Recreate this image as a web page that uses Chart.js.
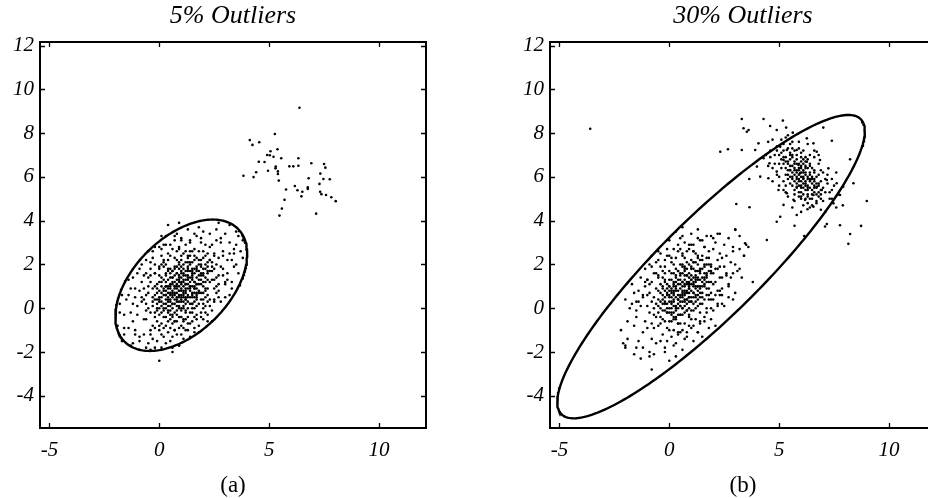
<!DOCTYPE html>
<html>
<head>
<meta charset="utf-8">
<script src="https://cdn.jsdelivr.net/npm/chart.js@4.4.1/dist/chart.umd.min.js"></script>
<style>
  html, body { margin: 0; padding: 0; background: #fff; overflow: hidden; }
  #wrap { position: relative; width: 928px; height: 498px; overflow: hidden; background: #fff; }
  canvas { position: absolute; top: 0; }
  #chartA { left: 0; }
  #chartB { left: 510px; }
</style>
</head>
<body>
<div id="wrap">
  <canvas id="chartA" width="464" height="498"></canvas>
  <canvas id="chartB" width="464" height="498"></canvas>
</div>
<script>
// Panel titles, captions and axis ticks
const panelTitles = ['5% Outliers', '30% Outliers'];
const panelCaptions = ['(a)', '(b)'];
const xTickValues = [-5, 0, 5, 10];
const yTickValues = [-4, -2, 0, 2, 4, 6, 8, 10, 12];
const xRange = [-5.43, 12.14];
const yRange = [-5.47, 12.16];

// Panel (a): main cloud, flat list of x,y pairs
const aInliers = [
  -1.8,0.2,
  -1.6,-0.9, -1.4,0.6, -1.3,-0.2,
  -1.2,-0.6, -1.1,0.9, -1.0,0.1, -0.9,-1.3, -1.2,1.4, -0.8,0.5, -1.0,-0.3, -0.9,1.8, -1.1,-1.0, -0.8,0.3,
  -0.7,0.4, -0.6,-0.5, -0.4,1.2, -0.5,0.0, -0.3,0.9, -0.6,1.6, -0.7,-1.2, -0.4,-0.2, -0.5,0.7, -0.3,-0.8,
  -0.6,0.2, -0.4,2.1, -0.7,0.9, -0.5,-1.6, -0.3,0.5, -0.6,-0.1, -0.4,1.5, -0.7,-0.5, -0.3,0.1, -0.5,1.0,
  -0.4,-1.0, -0.6,0.6, -0.3,2.6,
  -0.2,0.6, 0.0,-0.3, 0.1,1.4, -0.1,0.2, 0.2,0.9, 0.0,1.8, -0.2,-0.9, 0.1,0.5, 0.2,-0.4, -0.1,1.1,
  0.0,0.0, 0.2,2.2, -0.2,0.4, 0.1,-1.2, 0.0,0.8, -0.1,-0.6, 0.2,1.3, 0.1,0.1, -0.2,1.6, 0.0,-2.4,
  0.1,0.7, -0.1,0.4, 0.2,-0.1, 0.0,1.2, -0.2,-0.2, 0.1,2.7, 0.0,0.3, -0.1,-1.5, 0.2,0.6, 0.1,-0.7,
  -0.2,1.0, 0.0,0.5, 0.2,1.9, -0.1,0.9, 0.1,-0.2, 0.0,-1.0, -0.2,2.0, 0.2,0.2, 0.1,1.0, -0.1,-0.1,
  0.0,1.5, 0.2,-0.9, -0.1,0.7, 0.1,3.3,
  0.3,0.8, 0.5,-0.1, 0.7,1.5, 0.4,0.3, 0.6,1.1, 0.3,2.0, 0.5,0.6, 0.7,-0.6, 0.4,1.3, 0.6,0.0,
  0.3,-0.4, 0.5,1.8, 0.7,0.9, 0.4,-1.1, 0.6,0.5, 0.3,1.2, 0.5,2.4, 0.7,0.2, 0.4,0.7, 0.6,-0.3,
  0.3,0.4, 0.5,1.0, 0.7,1.9, 0.4,-0.6, 0.6,1.4, 0.3,-1.6, 0.5,0.3, 0.7,0.7, 0.4,2.2, 0.6,0.8,
  0.3,1.6, 0.5,-0.5, 0.7,1.2, 0.4,0.1, 0.6,2.7, 0.3,0.0, 0.5,1.4, 0.7,-0.2, 0.4,1.0, 0.6,-1.3,
  0.3,0.6, 0.5,0.9, 0.7,0.4, 0.4,1.7, 0.6,0.2, 0.3,-0.8, 0.5,0.1, 0.7,2.3, 0.4,0.5, 0.6,1.2,
  0.3,2.9, 0.5,-0.9, 0.7,1.0, 0.4,-0.2, 0.6,0.6, 0.3,1.0, 0.5,1.6, 0.7,-1.0, 0.4,3.8, 0.6,1.7,
  0.5,0.4, 0.3,0.2, 0.6,-0.7,
  0.8,1.0, 1.0,0.3, 1.2,1.7, 0.9,0.6, 1.1,1.3, 0.8,2.2, 1.0,-0.4, 1.2,0.9, 0.9,1.5, 1.1,0.1,
  0.8,-0.3, 1.0,1.9, 1.2,0.5, 0.9,-0.9, 1.1,2.5, 0.8,0.7, 1.0,1.1, 1.2,-0.1, 0.9,1.2, 1.1,0.8,
  0.8,1.6, 1.0,0.0, 1.2,2.1, 0.9,0.3, 1.1,-0.6, 0.8,0.4, 1.0,1.4, 1.2,1.1, 0.9,2.8, 1.1,0.5,
  0.8,-1.2, 1.0,0.8, 1.2,0.2, 0.9,1.8, 1.1,1.0, 0.8,1.3, 1.0,-0.8, 1.2,1.5, 0.9,0.0, 1.1,2.0,
  0.8,0.9, 1.0,2.4, 1.2,-0.5, 0.9,1.0, 1.1,0.3, 0.8,0.1, 1.0,1.6, 1.2,0.7, 0.9,-0.4, 1.1,1.6,
  0.8,1.9, 1.0,0.5, 1.2,2.6, 0.9,0.8, 1.1,-1.4, 0.8,-0.6, 1.0,1.2, 1.2,0.4, 0.9,2.1, 1.1,0.7,
  0.8,0.5, 1.0,3.1, 1.2,1.3, 0.9,-1.7, 1.1,1.2, 0.8,2.6, 1.0,0.6, 1.2,-1.0, 0.9,1.4, 1.1,1.8,
  1.0,-0.1, 0.9,0.5,
  1.3,1.3, 1.5,0.5, 1.7,1.9, 1.4,0.9, 1.6,1.6, 1.3,2.4, 1.5,-0.2, 1.7,1.1, 1.4,1.7, 1.6,0.3,
  1.3,0.0, 1.5,2.1, 1.7,0.7, 1.4,-0.7, 1.6,2.7, 1.3,0.9, 1.5,1.3, 1.7,0.1, 1.4,1.4, 1.6,1.0,
  1.3,1.8, 1.5,0.2, 1.7,2.3, 1.4,0.5, 1.6,-0.4, 1.3,0.6, 1.5,1.6, 1.7,1.4, 1.4,3.0, 1.6,0.7,
  1.3,-1.0, 1.5,1.0, 1.7,0.4, 1.4,2.0, 1.6,1.2, 1.3,1.5, 1.5,-0.6, 1.7,1.7, 1.4,0.2, 1.6,2.2,
  1.3,1.1, 1.5,2.6, 1.7,-0.3, 1.4,1.2, 1.6,0.5, 1.3,0.3, 1.5,1.8, 1.7,0.9, 1.4,-0.2, 1.6,1.8,
  1.3,2.1, 1.5,0.7, 1.7,3.3, 1.4,1.0, 1.6,-1.1, 1.3,-0.4, 1.5,1.4, 1.7,0.6, 1.4,2.4, 1.6,0.9,
  1.8,3.7, 1.5,0.0, 1.3,1.7,
  1.8,1.5, 2.0,0.7, 2.2,2.1, 1.9,1.1, 2.1,1.8, 1.8,2.6, 2.0,0.0, 2.2,1.3, 1.9,1.9, 2.1,0.5,
  1.8,0.2, 2.0,2.3, 2.2,0.9, 1.9,-0.4, 2.1,2.9, 1.8,1.1, 2.0,1.5, 2.2,0.3, 1.9,1.6, 2.1,1.2,
  1.8,2.0, 2.0,0.4, 2.2,2.5, 1.9,0.7, 2.1,-0.2, 1.8,0.8, 2.0,1.8, 2.2,1.6, 1.9,3.2, 2.1,0.9,
  1.8,-0.8, 2.0,1.2, 2.2,0.6, 1.9,2.2, 2.1,1.4, 1.8,1.7, 2.0,-0.5, 2.2,1.9, 1.9,0.4, 2.1,2.4,
  2.0,1.0, 2.2,-0.6, 1.9,1.3, 2.1,0.1,
  2.3,1.7, 2.5,0.9, 2.7,2.3, 2.4,1.3, 2.6,2.0, 2.3,2.8, 2.5,0.3, 2.7,1.5, 2.4,2.1, 2.6,0.7,
  2.3,0.4, 2.5,2.5, 2.7,1.1, 2.4,-0.1, 2.6,3.1, 2.3,1.2, 2.5,1.8, 2.7,0.5, 2.4,1.7, 2.6,1.4,
  2.7,3.9, 2.5,1.3, 2.3,2.2,
  2.8,1.9, 3.0,1.1, 3.2,2.5, 2.9,1.5, 3.1,2.2, 2.8,3.0, 3.0,0.5, 3.2,3.8, 2.9,2.4, 3.1,1.3,
  3.4,2.5, 3.5,2.0, 3.3,1.2,
  3.8,2.3,
  0.6,0.7, 1.2,1.1, 0.9,1.3, 1.4,0.8, 0.7,1.0, 1.1,0.6, 1.5,1.5, 0.4,0.4, 1.0,0.9, 1.3,1.4,
  0.8,0.3, 1.6,1.2, 0.5,1.1, 1.2,0.4, 0.9,0.8, 1.7,1.8, 0.3,0.6, 1.1,1.5, 0.6,0.2, 1.4,1.0,
  0.2,0.0, 1.8,1.3, 0.7,0.6, 1.0,1.7, 1.5,0.6, 0.4,0.9, 1.3,1.9, 0.8,-0.1, 1.9,2.0, 0.1,0.3,
  1.2,0.8, 0.6,1.4, 1.6,0.9, 0.9,0.1, 2.0,1.6, 0.3,1.0, 1.4,2.1, 0.5,-0.3, 1.7,1.1, 1.0,0.4,
  0.7,1.8, 1.8,2.2, 0.2,0.8, 1.1,0.0, 1.5,1.7, 0.4,-0.1, 2.1,2.0, 0.8,1.6, 1.3,0.5, 0.0,0.4,
  1.6,2.4, 0.6,-0.4, 1.9,1.5, 0.9,2.0, 1.2,-0.2, 0.1,1.2, 2.2,1.7, 0.5,0.7, 1.4,2.6, 0.7,-0.6,
  -0.1,0.0, 2.3,2.2, 1.0,2.2, 1.7,0.5, 0.3,1.5, 1.1,-0.5, 2.0,2.6, 0.8,1.1, -0.3,0.3, 1.5,0.2,
  0.6,1.7, 2.4,1.9, -0.2,-0.4, 1.3,2.3, 0.4,1.8, 1.8,0.7, 0.0,-0.8, 2.5,2.4, 1.6,0.0, 0.2,2.1,
  -1.0,1.6, -0.6,2.2, -0.2,2.8, 0.3,3.3, 0.8,3.4, 1.3,3.6, -1.3,0.9, -1.5,0.4, -0.8,1.2, -0.4,1.8,
  0.1,2.4, 0.5,2.9, 1.0,3.2, -1.1,0.5, -0.7,1.5, -0.3,2.3, 0.2,2.9, 0.7,3.1, 1.6,3.4, -1.6,-0.3,
  -1.2,0.2, -0.9,0.8, -0.5,1.4, 0.0,1.9, 0.4,2.5, 0.9,2.7, 1.4,3.1, 2.0,3.5, -0.8,2.0, 0.0,2.8,
  0.7,3.3, -1.4,1.3, 1.2,2.9, 2.3,3.4, 0.1,2.0, -0.5,2.6, 1.9,3.0, -1.7,0.6, -0.2,1.6, 0.9,3.9,
  1.0,-1.2, 1.6,-0.9, 2.2,-0.3, 2.8,0.3, 3.3,0.9, 3.6,1.6, 0.5,-1.5, 0.1,-1.8, -0.4,-1.9, 1.3,-0.7,
  1.9,-0.2, 2.5,0.4, 3.0,1.2, 3.4,1.9, 0.7,-1.0, 0.2,-1.3, -0.3,-1.4, 1.7,-0.5, 2.3,0.1, 2.7,0.8,
  3.1,1.6, 3.7,2.6, 1.1,-0.9, 0.6,-2.0, -0.6,-1.8, 2.0,0.2, 2.6,1.0, 3.2,0.6, 3.5,2.9, 1.4,-1.3,
  0.9,-1.7, -0.9,-1.5, 2.4,-0.6, 2.9,1.8, 3.8,3.1, -1.2,-1.6, 1.8,-1.1, 0.6,-1.8, 2.1,0.8, 3.3,2.2,
  -1.6,-1.2, -1.9,-0.8, -1.3,-1.7, -0.9,-1.9, -1.7,-1.5, 3.5,3.5, 3.0,3.4, 3.9,3.0, 2.6,3.6, 3.2,3.0,
  -0.2,-1.8, -1.4,-0.9, 2.8,3.2, 3.6,3.3, -1.8,-0.2, 3.4,2.7, -1.1,-1.2, 2.4,2.9, -0.4,-1.2, 2.9,2.6
];

// Panel (a): outlying group
const aOutliers = [
  6.38,9.16, 5.26,7.96, 4.12,7.68, 4.55,7.58, 4.24,7.46, 5.38,7.26, 5.06,7.17, 4.91,7.00, 5.03,6.99, 5.20,6.92,
  5.55,6.85, 6.33,6.85, 4.53,6.69, 4.79,6.68, 6.92,6.62, 7.50,6.59, 5.30,6.47, 5.29,6.39, 5.92,6.48, 6.10,6.48,
  6.33,6.51, 7.56,6.42, 4.95,6.28, 5.40,6.25, 4.41,6.21, 5.40,6.13, 3.83,6.05, 4.29,5.99, 7.33,6.15, 6.80,5.94,
  7.47,5.90, 7.76,5.89, 5.44,5.83, 7.29,5.68, 6.17,5.58, 6.76,5.52, 6.76,5.45, 5.77,5.42, 6.29,5.39, 6.51,5.32,
  7.32,5.32, 7.38,5.21, 7.59,5.17, 6.47,5.11, 7.83,5.07, 8.03,4.89, 5.70,4.95, 5.58,4.55, 5.47,4.23, 7.14,4.32
];

// Panel (b): main cloud
const bInliers = [
  -2.1,-1.6,
  -2.0,-1.8, -1.7,0.2, -1.6,-0.8,
  -1.5,-0.4, -1.4,0.8, -1.2,-1.1, -1.3,0.1, -1.1,-0.6, -1.4,-1.5, -1.2,0.5, -1.1,1.2, -1.5,0.3,
  -1.0,0.1, -0.8,-0.7, -0.6,0.9, -0.9,-0.2, -0.7,0.5, -1.0,1.3, -0.8,-1.4, -0.6,-0.4, -0.9,0.7, -0.7,-0.9,
  -1.0,-0.9, -0.8,0.3, -0.6,1.6, -0.9,-2.0, -0.7,0.0, -0.8,-2.8, -0.6,0.2, -0.9,1.1, -0.7,-0.3, -1.0,0.6,
  -0.8,1.9,
  -0.5,0.4, -0.3,-0.5, -0.1,1.1, -0.4,0.0, -0.2,0.8, -0.5,1.5, -0.3,-1.2, -0.1,0.2, -0.4,-0.4, -0.2,1.3,
  -0.5,-0.8, -0.3,0.6, -0.1,-0.2, -0.4,1.9, -0.2,0.3, -0.5,0.1, -0.3,1.0, -0.1,-0.9, -0.4,0.7, -0.2,-0.6,
  -0.5,2.2, -0.3,0.2, -0.1,0.6, -0.4,-1.5, -0.2,1.6, -0.5,-0.2, -0.3,1.4, -0.1,0.9, -0.4,0.3, -0.2,-0.1,
  -0.5,0.8, -0.3,-0.1, -0.1,2.4, -0.4,1.1, -0.2,-1.8, -0.3,0.9, -0.1,0.0, -0.4,-0.7, -0.2,0.5,
  0.0,0.6, 0.2,-0.2, 0.4,1.3, 0.1,0.2, 0.3,1.0, 0.0,1.7, 0.2,-1.0, 0.4,0.4, 0.1,-0.3, 0.3,1.5,
  0.0,-0.6, 0.2,0.8, 0.4,0.0, 0.1,2.1, 0.3,0.5, 0.0,0.3, 0.2,1.2, 0.4,-0.7, 0.1,0.9, 0.3,-0.4,
  0.0,2.4, 0.2,0.4, 0.4,0.8, 0.1,-1.3, 0.3,1.8, 0.0,0.0, 0.2,1.6, 0.4,1.1, 0.1,0.5, 0.3,0.1,
  0.0,1.0, 0.2,0.1, 0.4,2.6, 0.1,1.3, 0.3,-1.6, 0.0,-0.2, 0.2,0.7, 0.4,-0.3, 0.1,0.7, 0.3,0.8,
  0.0,1.3, 0.2,-0.5, 0.4,1.7, 0.1,0.0, 0.3,1.2, 0.0,-1.0, 0.2,2.0, 0.4,0.2, 0.1,1.6, 0.3,-0.1,
  0.0,0.8, 0.2,1.0, 0.4,-1.1, 0.1,-0.6, 0.3,2.3, 0.2,0.3,
  0.5,0.9, 0.7,0.1, 0.9,1.6, 0.6,0.5, 0.8,1.2, 0.5,2.0, 0.7,-0.7, 0.9,0.7, 0.6,0.0, 0.8,1.8,
  0.5,-0.3, 0.7,1.1, 0.9,0.3, 0.6,2.4, 0.8,0.8, 0.5,0.6, 0.7,1.5, 0.9,-0.4, 0.6,1.2, 0.8,-0.1,
  0.5,2.7, 0.7,0.7, 0.9,1.1, 0.6,-1.0, 0.8,2.1, 0.5,0.3, 0.7,1.9, 0.9,1.4, 0.6,0.8, 0.8,0.4,
  0.5,1.3, 0.7,0.4, 0.9,2.9, 0.6,1.6, 0.8,-1.3, 0.5,0.1, 0.7,1.0, 0.9,0.0, 0.6,1.0, 0.8,1.1,
  0.5,1.6, 0.7,-0.2, 0.9,2.0, 0.6,0.3, 0.8,1.5, 0.5,-0.7, 0.7,2.3, 0.9,0.5, 0.6,1.9, 0.8,0.2,
  0.5,1.1, 0.7,1.3, 0.9,-0.8, 0.6,-0.3, 0.8,2.6, 0.5,0.5, 0.7,0.6, 0.9,0.9, 0.6,0.6, 0.8,0.7,
  0.5,-1.1, 0.7,1.7, 0.9,1.2, 0.6,3.3,
  1.0,1.1, 1.2,0.3, 1.4,1.8, 1.1,0.7, 1.3,1.4, 1.0,2.2, 1.2,-0.5, 1.4,0.9, 1.1,0.2, 1.3,2.0,
  1.0,-0.1, 1.2,1.3, 1.4,0.5, 1.1,2.6, 1.3,1.0, 1.0,0.8, 1.2,1.7, 1.4,-0.2, 1.1,1.4, 1.3,0.1,
  1.0,2.9, 1.2,0.9, 1.4,1.3, 1.1,-0.8, 1.3,2.3, 1.0,0.5, 1.2,2.1, 1.4,1.6, 1.1,1.0, 1.3,0.6,
  1.0,1.5, 1.2,0.6, 1.4,3.1, 1.1,1.8, 1.3,-1.1, 1.0,0.3, 1.2,1.2, 1.4,0.2, 1.1,1.2, 1.3,1.3,
  1.0,1.8, 1.2,0.0, 1.4,2.2, 1.1,0.5, 1.3,1.7, 1.0,-0.5, 1.2,2.5, 1.4,0.7, 1.1,2.1, 1.3,0.4,
  1.0,1.3, 1.2,1.5, 1.4,-0.6, 1.1,-0.1, 1.3,3.6, 1.2,1.0,
  1.5,1.4, 1.7,0.6, 1.9,2.0, 1.6,1.0, 1.8,1.7, 1.5,2.4, 1.7,-0.2, 1.9,1.2, 1.6,0.4, 1.8,2.3,
  1.5,0.2, 1.7,1.6, 1.9,0.7, 1.6,2.8, 1.8,1.2, 1.5,1.0, 1.7,2.0, 1.9,0.0, 1.6,1.6, 1.8,0.4,
  1.5,3.1, 1.7,1.2, 1.9,1.6, 1.6,-0.6, 1.8,2.6, 1.5,0.7, 1.7,2.3, 1.9,1.9, 1.6,1.3, 1.8,0.9,
  1.5,1.8, 1.7,0.9, 1.9,3.3, 1.6,2.0, 1.8,-0.9, 1.5,0.5, 1.7,1.4, 1.9,0.4, 1.6,1.1,
  2.0,1.6, 2.2,0.8, 2.4,2.3, 2.1,1.2, 2.3,1.9, 2.0,2.7, 2.2,0.1, 2.4,1.4, 2.1,0.6, 2.3,2.5,
  2.0,0.4, 2.2,1.8, 2.4,0.9, 2.1,3.0, 2.3,1.4, 2.0,1.1, 2.2,2.2, 2.4,0.2, 2.1,1.8, 2.3,0.6,
  2.2,3.4,
  2.5,1.9, 2.7,1.1, 2.9,2.6, 2.6,1.5, 2.8,2.1, 2.5,2.9, 2.7,0.5, 2.9,1.6, 2.6,2.4,
  3.0,3.6, 3.2,1.8, 3.4,2.4,
  3.8,1.2,
  0.4,0.6, 0.9,1.0, 0.6,1.2, 1.1,0.7, 0.3,0.9, 0.8,0.4, 1.2,1.4, 0.1,0.3, 0.7,0.8, 1.0,1.3,
  0.5,0.1, 1.3,1.0, 0.2,1.1, 0.9,0.5, 0.6,0.7, 1.4,1.7, 0.0,0.5, 0.8,1.5, 0.3,0.0, 1.1,1.1,
  -0.1,-0.2, 1.5,1.2, 0.4,0.4, 0.7,1.8, 1.2,0.5, 0.1,0.8, 1.0,1.9, 0.5,-0.3, 1.6,1.9, -0.2,0.2,
  0.9,0.9, 0.3,1.4, 1.3,0.8, 0.6,0.0, 1.7,1.5, 0.0,1.0, 1.1,2.1, 0.2,-0.4, 1.4,1.0, 0.7,0.3,
  0.4,1.7, 1.5,2.2, -0.1,0.7, 0.8,-0.1, 1.2,1.7, 0.1,-0.2, 1.8,2.0, 0.5,1.5, 1.0,0.3, -0.3,0.4,
  1.3,2.4, 0.3,-0.5, 1.6,1.4, 0.6,2.0, 0.9,-0.3, -0.2,1.2, 1.9,1.7, 0.2,0.6, 1.1,2.6, 0.4,-0.7,
  -1.3,1.4, -0.9,2.0, -0.5,2.6, 0.0,3.1, 0.5,3.2, 1.0,3.4, -1.6,0.7, -1.8,0.0, -1.1,1.0, -0.7,1.6,
  -0.2,2.2, 0.2,2.7, 0.7,3.0, -1.4,0.3, -1.0,1.3, -0.6,2.1, -0.1,2.7, 0.4,2.9, 1.3,3.2, -1.9,-0.6,
  -1.5,-0.1, -1.2,0.6, -0.8,1.2, -0.3,1.7, 0.1,2.3, 0.6,2.5, 1.1,2.9, 1.7,3.3, -1.1,1.8, -0.4,2.5,
  0.3,3.5, -1.7,1.1, 0.9,2.7, 2.0,3.2, -0.2,1.9, -0.8,2.4, 1.6,2.8, -2.0,0.4, -0.5,1.4, 0.6,3.7,
  0.7,-1.4, 1.3,-1.1, 1.9,-0.5, 2.5,0.1, 3.0,0.7, 3.3,1.4, 0.2,-1.7, -0.2,-2.0, -0.7,-2.1, 1.0,-0.9,
  1.6,-0.4, 2.2,0.2, 2.7,1.0, 3.1,1.7, 0.4,-1.2, -0.1,-1.5, -0.6,-1.6, 1.4,-0.7, 2.0,-0.1, 2.4,0.6,
  2.8,1.4, 3.4,2.4, 0.8,-1.1, 0.3,-2.2, -0.9,-2.2, 1.7,0.0, 2.3,0.8, 2.9,0.4, 3.2,2.7, 1.1,-1.5,
  0.6,-1.9, -1.2,-1.8, 2.1,-0.8, 2.6,1.6, 3.5,2.9, -1.5,-1.8, 1.5,-1.3, 0.0,-2.4, 1.8,0.6, 3.0,2.0,
  -1.9,-1.4, -2.2,-1.0, -1.6,-2.1, -1.3,-2.3, -2.0,-1.7, 3.2,3.3, 2.7,3.2, 3.6,2.8, 2.3,3.4, 2.9,2.8
];

// Panel (b): outlying group
const bOutliers = [
  3.30,8.64, 4.29,8.64, 3.38,8.22, 3.53,8.06, 3.61,8.14, 4.59,8.32, 4.89,8.14, 5.17,8.57, 5.32,8.25, 5.62,8.02,
  2.67,7.26, 3.30,7.23, 3.91,7.23, 4.06,7.53, 2.32,7.15, 7.01,8.25, 7.40,7.65, 8.23,6.80, 8.38,5.71, 8.99,4.90,
  7.62,5.71, 7.77,3.79, 8.23,3.39, 8.73,3.76, 8.15,2.94, 6.14,3.30, 5.70,3.77, 4.89,3.95, 4.44,3.12, 3.05,4.76,
  3.65,4.61, 3.64,5.90, 3.01,3.58, 3.45,2.97, 7.09,3.73, 7.17,3.85, 5.05,4.18, 5.80,4.26, 6.29,4.52, 6.56,4.64,
  7.47,4.79, 7.77,5.17, 7.92,5.55, 7.40,5.40, 7.17,5.86, 4.29,6.85, 4.56,6.62, 4.14,6.01, 4.51,5.94, 3.99,6.47,
  5.05,7.38, 5.35,7.23, 5.80,7.23, 6.26,7.76, 6.56,7.53, 6.71,7.15, 6.86,6.77, 7.24,6.39, 6.26,6.69, 5.88,6.54,
  5.50,6.31, 5.20,6.77, 4.89,6.24, 4.97,5.40, 5.35,5.25, 5.80,5.55, 6.10,5.94, 5.95,6.16, 6.41,5.86, 6.71,5.55,
  6.94,5.40, 6.56,5.17, 6.18,4.95, 5.65,4.95, 5.20,4.72, -3.6,8.2,
  5.8,6.2, 6.1,5.9, 6.3,5.6, 5.6,6.5, 6.0,6.0, 6.4,5.8, 5.9,6.4, 6.2,6.1, 5.7,5.8, 6.5,5.4,
  5.5,6.8, 6.0,5.5, 6.2,6.5, 5.8,5.7, 6.6,5.9, 5.4,6.3, 6.1,6.3, 6.3,5.2, 5.9,5.9, 6.7,5.5,
  5.3,6.9, 6.0,6.7, 6.4,6.2, 5.7,6.1, 6.2,5.4, 5.6,7.0, 6.5,6.0, 5.9,5.3, 6.1,6.8, 6.8,5.1,
  5.2,6.6, 5.8,6.6, 6.3,6.0, 6.0,5.1, 6.6,5.6, 5.5,6.0, 6.2,5.8, 5.7,7.2, 6.4,5.0, 5.9,6.1,
  6.9,5.8, 5.1,7.1, 6.0,6.4, 6.3,6.4, 5.6,5.6, 6.7,5.2, 5.8,6.0, 6.1,5.5, 5.4,7.3, 6.5,5.7,
  6.0,6.9, 5.3,6.1, 6.2,6.2, 6.6,6.3, 5.7,6.7, 6.4,5.5, 5.9,5.6, 6.8,5.7, 5.5,6.5, 6.1,6.0,
  5.2,7.5, 6.3,5.9, 6.0,5.8, 5.8,7.0, 6.5,5.2, 5.6,6.2, 6.9,5.4, 6.2,6.7, 5.4,5.9, 6.7,6.0,
  5.9,6.6, 6.1,5.2, 5.5,7.1, 6.4,6.5, 5.7,5.4, 6.0,6.2, 6.6,5.3, 5.3,6.7, 6.3,5.4, 5.8,5.9,
  7.0,5.5, 5.1,6.4, 6.2,5.6, 6.5,6.4, 5.6,6.9, 6.0,5.3, 5.9,7.3, 6.8,5.3, 5.4,6.6, 6.1,6.6,
  6.4,5.9, 5.7,6.4, 6.3,6.8, 5.2,6.9, 6.6,5.8, 5.8,5.5, 6.9,5.0, 5.5,6.3, 6.0,7.1, 6.2,5.0,
  4.8,7.0, 5.0,6.6, 4.7,6.4, 5.1,7.7, 4.9,7.4, 5.3,7.8, 5.6,7.6, 7.1,5.9, 7.3,5.3, 7.0,4.9,
  7.2,6.1, 6.9,6.3, 7.4,5.0, 6.7,4.9, 6.5,4.7, 5.0,5.6, 4.7,5.8, 5.3,5.3, 4.6,7.2, 7.5,5.6,
  5.7,4.9, 6.1,4.7, 6.4,7.0, 6.8,6.6, 5.4,5.1, 4.9,6.1, 5.2,5.8, 6.6,6.9, 7.6,4.6, 4.5,7.6,
  5.9,6.3, 6.2,5.7, 5.6,6.0, 6.4,6.1, 6.0,5.6, 5.7,6.6, 6.3,5.5, 5.8,6.8, 6.6,5.5, 6.1,6.2,
  5.4,6.7, 6.5,5.9, 5.9,5.8, 6.2,6.4, 5.6,5.9, 6.8,5.6, 5.5,7.0, 6.0,6.5, 6.3,5.1, 5.7,6.3,
  6.7,5.7, 5.3,6.4, 6.1,5.7, 6.4,6.6, 5.8,6.3, 6.9,5.2, 5.2,7.2, 6.0,5.0, 6.6,6.2, 5.5,5.7,
  7.1,5.3, 5.0,7.0, 6.2,6.9, 5.9,5.1, 6.5,5.0, 5.4,6.1, 6.8,6.1, 5.6,7.3, 6.3,4.8, 5.1,6.8,
  7.2,5.7, 4.9,7.2, 6.1,7.2, 6.7,4.8, 5.3,5.6, 7.0,6.2, 5.7,5.2, 4.8,6.6, 6.4,4.6, 5.5,7.5,
  7.3,5.0, 4.6,6.9, 5.9,7.6, 6.9,4.5, 5.2,5.4, 7.4,5.9, 6.0,4.4, 4.7,7.7, 6.6,7.2, 5.0,6.0,
  7.7,5.2, 4.4,7.0, 6.3,7.5, 7.1,4.4, 5.6,4.6, 7.6,6.2, 4.5,6.5, 5.4,7.9, 6.8,7.0, 7.9,4.7
];

// Fitted ellipses: centre x, centre y, var x, cov xy, var y
const aEllipse = [1.0, 1.05, 9.0, 4.3, 9.0];
const bEllipse = [1.9, 1.9, 49.0, 43.3, 48.0];

function toPoints(flat) {
  const pts = [];
  for (let i = 0; i < flat.length; i += 2) pts.push({ x: flat[i], y: flat[i + 1] });
  return pts;
}

// Outline of the ellipse (p - c)' S^-1 (p - c) = 1 via the Cholesky factor of S
function ellipseOutline(e) {
  const [cx, cy, sxx, sxy, syy] = e;
  const l11 = Math.sqrt(sxx), l21 = sxy / l11, l22 = Math.sqrt(syy - l21 * l21);
  const pts = [];
  for (let k = 0; k <= 240; k++) {
    const t = (k / 240) * 2 * Math.PI;
    const c = Math.cos(t), s = Math.sin(t);
    pts.push({ x: cx + l11 * c, y: cy + l21 * c + l22 * s });
  }
  return pts;
}

// Box frame with inward tick marks on all four sides
const framePlugin = {
  id: 'frame',
  afterDraw(chart) {
    const { ctx, chartArea: a, scales: { x, y } } = chart;
    ctx.save();
    ctx.strokeStyle = '#000';
    ctx.lineWidth = 1.3;
    const t = 5;
    ctx.beginPath();
    x.ticks.forEach(tk => {
      const px = Math.round(x.getPixelForValue(tk.value)) + 0.5;
      ctx.moveTo(px, a.bottom); ctx.lineTo(px, a.bottom - t);
      ctx.moveTo(px, a.top); ctx.lineTo(px, a.top + t);
    });
    y.ticks.forEach(tk => {
      const py = Math.round(y.getPixelForValue(tk.value)) + 0.5;
      ctx.moveTo(a.left, py); ctx.lineTo(a.left + t, py);
      ctx.moveTo(a.right, py); ctx.lineTo(a.right - t, py);
    });
    ctx.stroke();
    ctx.lineWidth = 2;
    ctx.strokeRect(a.left, a.top, a.right - a.left, a.bottom - a.top);
    ctx.restore();
  }
};

const serif = 'Liberation Serif, Times New Roman, serif';

function makePanel(canvasId, idx, cloud, group, ellipse) {
  const dot = { pointRadius: 1.3, pointHoverRadius: 1.3, pointBorderWidth: 0,
                pointBackgroundColor: '#000', borderColor: '#000', order: 2 };
  return new Chart(document.getElementById(canvasId), {
    type: 'scatter',
    data: {
      datasets: [
        Object.assign({ data: toPoints(cloud) }, dot),
        Object.assign({ data: toPoints(group) }, dot),
        { type: 'line', data: ellipseOutline(ellipse), showLine: true, fill: false, tension: 0,
          borderColor: '#000', borderWidth: 2.4, pointRadius: 0, pointHoverRadius: 0, order: 1 }
      ]
    },
    options: {
      responsive: false,
      animation: false,
      devicePixelRatio: 1,
      events: [],
      layout: { padding: { left: 0, right: 38, top: 0, bottom: 0 } },
      plugins: {
        legend: { display: false },
        tooltip: { enabled: false },
        title: {
          display: true, fullSize: false, text: panelTitles[idx], color: '#000',
          font: { family: serif, style: 'italic', weight: 'normal', size: 26, lineHeight: 1.2 },
          padding: { top: 1, bottom: 9.8 }
        }
      },
      scales: {
        x: {
          type: 'linear', min: xRange[0], max: xRange[1],
          grid: { display: false, drawTicks: false },
          border: { display: false },
          afterBuildTicks: s => { s.ticks = xTickValues.map(v => ({ value: v })); },
          afterFit: s => { s.height = 70; },
          ticks: { color: '#000', padding: 10, maxRotation: 0, autoSkip: false,
                   font: { family: serif, style: 'italic', size: 21 } },
          title: { display: true, text: panelCaptions[idx], color: '#000',
                   font: { family: serif, size: 23, lineHeight: 1 }, padding: { top: 0, bottom: 1 } }
        },
        y: {
          type: 'linear', min: yRange[0], max: yRange[1],
          grid: { display: false, drawTicks: false },
          border: { display: false },
          afterBuildTicks: s => { s.ticks = yTickValues.map(v => ({ value: v })); },
          afterFit: s => { s.width = 40; },
          ticks: { color: '#000', padding: 6, autoSkip: false,
                   font: { family: serif, style: 'italic', size: 21 } }
        }
      }
    },
    plugins: [framePlugin]
  });
}

makePanel('chartA', 0, aInliers, aOutliers, aEllipse);
makePanel('chartB', 1, bInliers, bOutliers, bEllipse);
</script>
</body>
</html>
